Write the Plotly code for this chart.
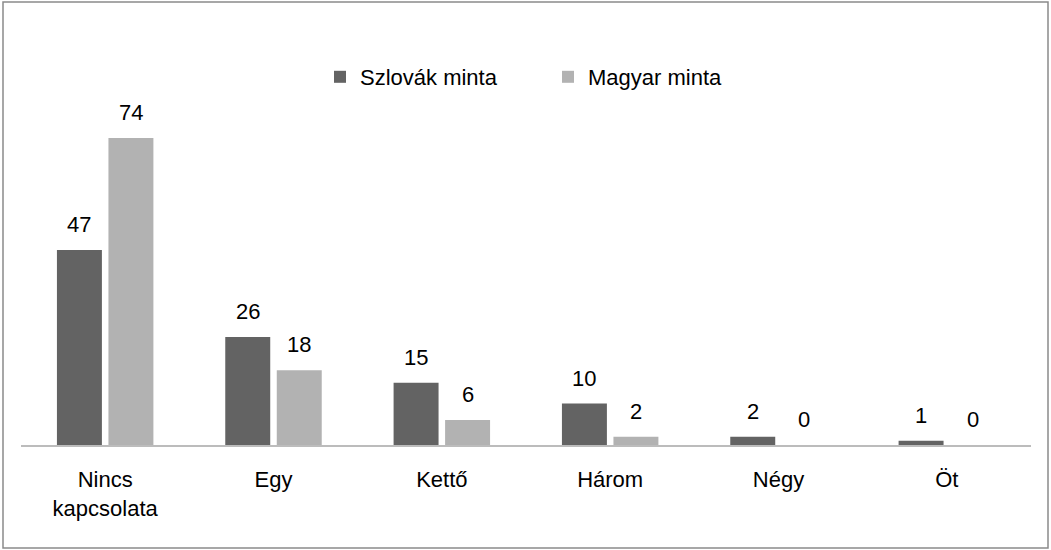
import plotly.graph_objects as go

categories = ["Nincs<br>kapcsolata", "Egy", "Kettő", "Három", "Négy", "Öt"]
szlovak = [47, 26, 15, 10, 2, 1]
magyar = [74, 18, 6, 2, 0, 0]
series_names = ["Szlovák minta", "Magyar minta"]
colors = ["#636363", "#b2b2b2"]

W, H = 1051, 550
ML, MR, MT, MB = 21, 20, 40, 105
BARGAP, BARGROUPGAP = 0.388, 0.127
YMAX = 97.6
FONT = "Liberation Sans, Arial, sans-serif"

xs = list(range(len(categories)))
fig = go.Figure()
for name, vals, col in zip(series_names, [szlovak, magyar], colors):
    fig.add_trace(go.Bar(x=xs, y=vals, name=name, marker_color=col,
                         marker_line_width=0, hoverinfo="y+name"))

slot = (1 - BARGAP) / 2
annotations = []
for k, vals in enumerate([szlovak, magyar]):
    off = (k - 0.5) * slot
    for i, v in enumerate(vals):
        annotations.append(dict(x=i + off, y=v, xref="x", yref="y", text=str(v),
                                showarrow=False, yanchor="bottom", yshift=11,
                                font=dict(family=FONT, size=22, color="#000000")))

pw = W - ML - MR
ph = H - MT - MB
def px_x(p):
    return (p - ML) / pw
def px_y(p):
    return (H - MB - p) / ph

fig.update_layout(
    width=W, height=H,
    margin=dict(l=ML, r=MR, t=MT, b=MB),
    paper_bgcolor="white", plot_bgcolor="white",
    barmode="group", bargap=BARGAP, bargroupgap=BARGROUPGAP,
    font=dict(family=FONT, size=22, color="#000000"),
    showlegend=True,
    legend=dict(orientation="h", x=px_x(320), xanchor="left",
                y=px_y(77), yanchor="middle",
                font=dict(family=FONT, size=22, color="#000000"),
                entrywidth=183, entrywidthmode="pixels",
                bgcolor="rgba(0,0,0,0)"),
    xaxis=dict(range=[-0.5, len(categories) - 0.5], tickvals=xs, ticktext=categories,
               showgrid=False, zeroline=False, showline=True, linecolor="#bcbcbc",
               linewidth=1.5, ticks="", ticklabelstandoff=14,
               tickfont=dict(family=FONT, size=22, color="#000000")),
    yaxis=dict(range=[0, YMAX], visible=False, showgrid=False, zeroline=False),
    annotations=annotations,
    shapes=[dict(type="rect", xref="paper", yref="paper",
                 x0=px_x(3), x1=px_x(1048), y0=px_y(548), y1=px_y(2),
                 line=dict(color="#8a8a8a", width=1.5), fillcolor="rgba(0,0,0,0)",
                 layer="below")],
)

fig.write_html("out.html", config={"displayModeBar": False},
               post_script="document.body.style.margin='0';document.body.style.overflow='hidden';")
